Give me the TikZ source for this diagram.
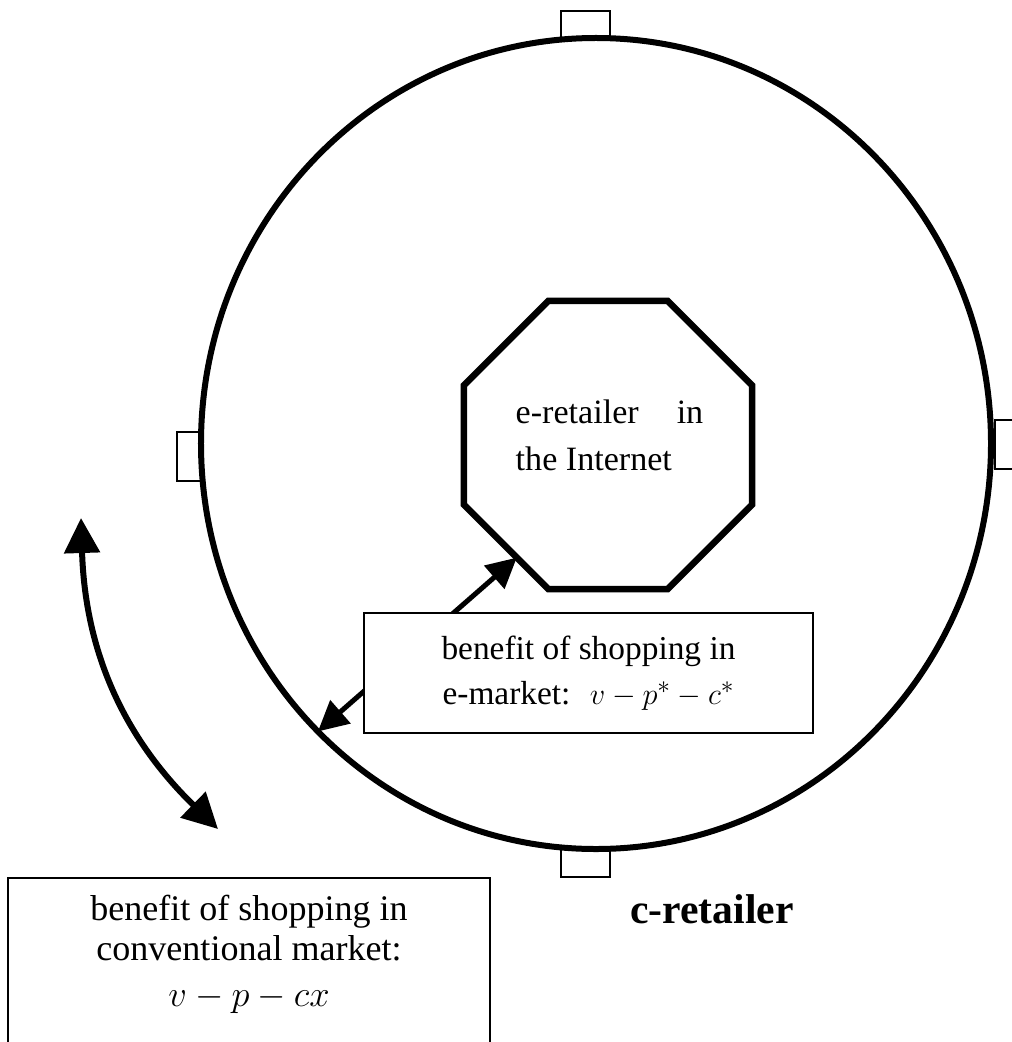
\documentclass[tikz,border=0pt]{standalone}
\usepackage{fontspec}
\setmainfont{Liberation Serif}
\usetikzlibrary{shapes.geometric}
\usetikzlibrary{arrows.meta}
\usetikzlibrary{positioning}

\begin{document}
\begin{tikzpicture}[
    x=0.2mm, y=-0.2mm,
    gate/.style={
        rectangle,
        draw,
        fill=white,
        line width=0.4mm,
        inner sep=0pt,
        },
    ring/.style={
        ellipse,
        draw,
        line width=1.2mm,
        inner sep=0pt,
        outer sep=0pt,
        },
    octa/.style={
        regular polygon,
        regular polygon sides=8,
        draw,
        line width=1.3mm,
        inner sep=0pt,
        outer sep=0pt,
        },
    panel/.style={
        rectangle,
        draw,
        fill=white,
        line width=0.4mm,
        inner sep=0pt,
        },
    boxtext/.style={
        align=center,
        inner sep=0pt,
        },
    duplex/.style={
        >={Triangle[length=6mm,width=6mm]},
        <->,
        line width=1mm,
        },
    swing/.style={
        >={Triangle[length=7mm,width=7mm]},
        <->,
        line width=1.2mm,
        },
    ]

    \useasboundingbox (0,0) rectangle (1012,1042);

    \node [gate, minimum width=9.8mm, minimum height=5.6mm] (gateN) at (585.5,25) {};
    \node [gate, minimum width=9.8mm, minimum height=6mm] (gateS) at (585,862) {};
    \node [gate, minimum width=4.8mm, minimum height=9.8mm] (gateW) at (189,456.5) {};
    \node [gate, minimum width=4.8mm, minimum height=9.8mm] (gateE) at (1007,444.5) {};

    \node [ring, minimum width=158mm, minimum height=162.2mm] (rim) at (596,443.5) {};
    \node [octa, minimum size=62.4mm] (oct) at (608,445) {};
    \node [align=left, inner sep=0pt, font=\fontsize{19.4}{26.7}\selectfont] (ecom) at (609.5,435)
        {e-retailer\hspace{7.6mm}in\\the Internet};

    \draw [duplex] (rim.226) -- (oct.231);

    \node [panel, minimum width=89.8mm, minimum height=24mm] (emkt) at (588.5,673) {};
    \node [boxtext, font=\fontsize{19}{25.6}\selectfont] (emkttxt) at (emkt)
        {benefit of shopping in\\e-market:~ $v-p^{*}-c^{*}$};

    \node [panel, minimum width=96.4mm, minimum height=40mm, anchor=north] (conv) at (249,877) {};
    \node [boxtext, font=\fontsize{20.5}{22.5}\selectfont, below=3.6mm of conv.north] (convtxt)
        {benefit of shopping in\\conventional market:\\[4pt]$v-p-cx$};

    \node [anchor=base, font=\fontsize{23.7}{28}\selectfont\bfseries] (cret) at (712,923) {c-retailer};

    \coordinate (swingTop) at (81,518);
    \coordinate (swingBot) at (218,829);
    \draw [swing] (swingTop) to[bend right=22] (swingBot);

\end{tikzpicture}
\end{document}
